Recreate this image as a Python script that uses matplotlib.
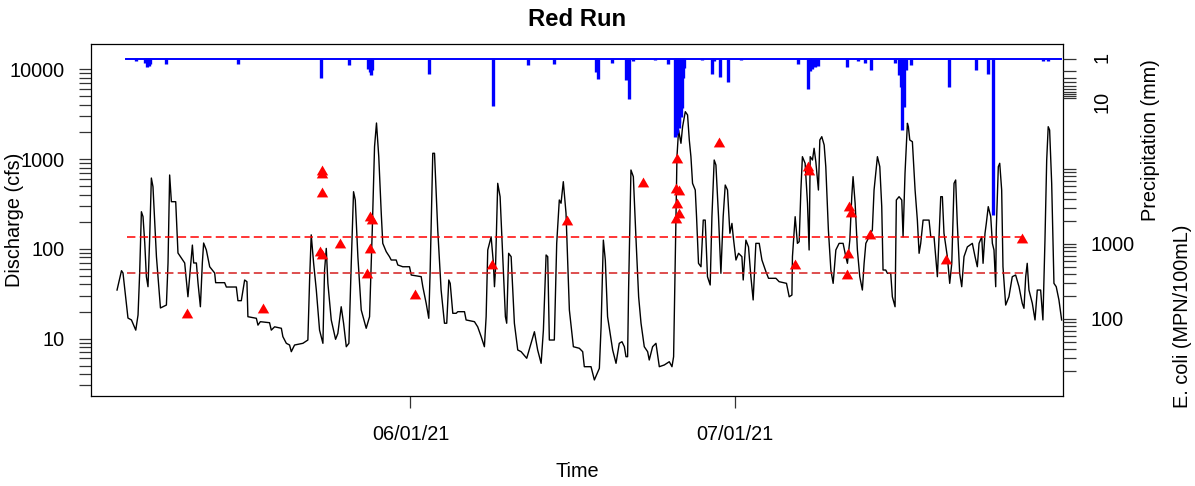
import numpy as np
import pandas as pd
import matplotlib
matplotlib.use("Agg")
import matplotlib.pyplot as plt
import matplotlib.dates as mdates
from matplotlib.ticker import FixedLocator, FuncFormatter, NullLocator

plt.rcParams['font.family'] = ['Liberation Sans', 'DejaVu Sans']

# ---------------- data (days since 2021-05-01 00:00) ----------------
BASE = pd.Timestamp("2021-05-01")

q_days = [
    3.89, 4.30, 4.44, 4.90, 5.22, 5.62, 5.83, 5.98, 6.14, 6.29,
    6.45, 6.60, 6.75, 6.91, 7.06, 7.21, 7.53, 7.90, 8.45, 8.60,
    8.75, 8.91, 9.31, 9.52, 9.83, 10.14, 10.44, 10.60, 10.85, 10.97,
    11.22, 11.37, 11.59, 11.77, 11.89, 12.14, 12.45, 12.91, 13.00, 13.83,
    13.99, 14.91, 15.06, 15.37, 15.68, 15.89, 15.98, 16.76, 16.91, 17.13,
    17.98, 18.14, 18.45, 19.07, 19.21, 19.53, 19.83, 19.99, 20.29, 21.06,
    21.52, 21.68, 21.83, 22.05, 22.30, 22.60, 22.91, 23.06, 23.22, 23.37,
    23.68, 24.08, 24.29, 24.60, 24.82, 25.07, 25.31, 25.53, 25.74, 25.90,
    26.14, 26.45, 26.91, 27.22, 27.47, 27.68, 27.86, 28.07, 28.30, 28.44,
    28.76, 29.06, 29.22, 29.68, 29.83, 30.29, 30.91, 31.07, 31.99, 32.14,
    32.45, 32.69, 32.82, 33.06, 33.22, 33.52, 33.83, 34.14, 34.35, 34.54,
    34.67, 34.91, 35.22, 35.37, 35.99, 36.14, 36.91, 37.21, 37.53, 37.83,
    37.99, 38.14, 38.45, 38.66, 38.76, 38.85, 39.06, 39.28, 39.52, 39.77,
    39.89, 40.07, 40.30, 40.60, 40.91, 41.22, 41.74, 42.14, 42.45, 42.75,
    43.07, 43.28, 43.53, 43.68, 43.83, 44.29, 44.51, 44.75, 44.91, 45.12,
    45.37, 45.68, 46.05, 46.60, 46.91, 47.06, 47.68, 47.99, 48.45, 48.61,
    48.82, 49.00, 49.21, 49.68, 49.99, 50.29, 50.54, 50.76, 50.91, 51.06,
    51.15, 51.37, 51.59, 51.84, 52.08, 52.30, 52.60, 52.91, 53.06, 53.37,
    53.68, 53.99, 54.45, 54.91, 55.16, 55.31, 55.44, 55.53, 55.62, 55.77,
    55.99, 56.14, 56.39, 56.60, 56.76, 56.91, 57.06, 57.31, 57.43, 57.61,
    57.84, 58.05, 58.23, 58.44, 58.69, 58.85, 59.06, 59.22, 59.46, 59.68,
    59.89, 60.08, 60.29, 60.51, 60.70, 60.82, 61.07, 61.31, 61.62, 61.74,
    61.99, 62.23, 62.45, 62.66, 62.91, 63.22, 63.47, 63.84, 64.08, 64.76,
    65.06, 65.74, 65.99, 66.24, 66.29, 66.54, 66.75, 66.91, 67.07, 67.21,
    67.46, 67.68, 67.83, 67.93, 68.14, 68.29, 68.45, 68.69, 68.82, 69.00,
    69.22, 69.37, 69.61, 69.84, 70.05, 70.30, 70.60, 70.97, 71.22, 71.37,
    71.59, 71.77, 71.89, 72.08, 72.29, 72.51, 72.75, 72.91, 73.07, 73.37,
    73.67, 73.83, 74.14, 74.36, 74.54, 74.66, 74.91, 75.06, 75.37, 75.52,
    75.77, 75.89, 76.14, 76.39, 76.51, 76.69, 76.91, 77.00, 77.13, 77.37,
    77.62, 77.83, 77.99, 78.14, 78.36, 78.91, 79.07, 79.37, 79.68, 79.99,
    80.14, 80.29, 80.60, 80.82, 81.01, 81.22, 81.37, 81.52, 81.74, 81.93,
    82.14, 82.45, 82.91, 83.16, 83.37, 83.53, 83.78, 83.90, 84.08, 84.20,
    84.38, 84.61, 84.76, 84.91, 85.07, 85.12, 85.31, 85.44, 85.62, 85.74,
    85.99, 86.29, 86.60, 86.91, 87.22, 87.52, 87.68, 87.84, 87.98, 88.14,
    88.45, 88.70, 88.91, 89.22, 89.43, 89.62, 89.78, 89.92, 90.05, 90.24,
    90.45, 90.66, 90.91, 91.16,
]
q_cfs = [
    34.7, 57, 53.7, 16.9, 16.1, 12.4, 18.3, 53.7, 259, 228,
    116, 48.9, 37.8, 136, 615, 492, 81.7, 21.9, 23.6, 69.5,
    665, 335, 335, 89.8, 78.9, 69.5, 29.2, 48.9, 110, 69.5,
    69.5, 41.6, 22.6, 69.5, 116, 97, 63.1, 53.7, 41.9, 41.9,
    37.5, 37.5, 26.4, 26.4, 44.9, 43, 17.5, 16.8, 14.1, 15.4,
    15.0, 12.4, 13.5, 13.0, 10.5, 8.84, 8.46, 7.13, 8.46, 8.84,
    9.62, 44.9, 143, 69.5, 34.7, 12.4, 8.84, 57, 101, 41.2,
    16.1, 9.8, 11.4, 22.6, 14.8, 8.1, 8.84, 69.5, 433, 350,
    81.7, 20.8, 13.0, 17.5, 162, 1375, 2525, 1064, 249, 115,
    92.9, 81.7, 75, 75, 66, 63.1, 63.1, 51, 48.9, 37.8,
    24.7, 16.8, 58, 1161, 1161, 162, 34.7, 14.8, 14.8, 44.9,
    41.2, 19.1, 19.1, 19.9, 19.9, 16.1, 15.4, 13.5, 10.5, 8.1,
    17.5, 97, 136, 69.5, 37.8, 58, 537, 381, 81.7, 17.5,
    14.8, 89.1, 81.7, 14.8, 7.45, 7.13, 6.02, 8.84, 11.9, 7.45,
    5.29, 12.4, 85.3, 81.7, 9.62, 9.62, 115, 350, 322, 560,
    249, 20.8, 8.1, 7.78, 7.13, 4.85, 4.85, 3.45, 4.65, 13.5,
    125, 75, 17.5, 7.45, 5.29, 8.84, 9.21, 8.1, 6.27, 6.27,
    34.7, 756, 637, 125, 29.2, 14.8, 8.1, 7.13, 5.76, 8.1,
    8.84, 4.85, 5.07, 5.51, 4.85, 6.27, 48.9, 228, 1064, 2110,
    1500, 2297, 3377, 3104, 1633, 1064, 537, 452, 228, 68.9,
    63.1, 209, 209, 48.9, 39.5, 228, 977, 859, 228, 53.3,
    228, 514, 452, 149, 192, 136, 75, 89.1, 81.7, 44.9,
    125, 105, 48.9, 26.9, 115, 115, 75, 55.6, 46.9, 46.9,
    43, 41.2, 29.2, 30.5, 81.7, 228, 115, 120, 452, 1064,
    898, 322, 97, 1064, 977, 1320, 935, 452, 1633, 1778,
    1436, 823, 162, 58, 41.2, 97, 115, 115, 81.7, 68.9,
    125, 381, 637, 322, 97, 48.9, 34.7, 68.9, 115, 136,
    162, 452, 1064, 823, 295, 58, 58, 53.3, 53.3, 29.2,
    22.6, 350, 381, 350, 136, 695, 2507, 2297, 1633, 1563,
    452, 209, 89.1, 115, 209, 209, 136, 136, 48.9, 381,
    381, 149, 81.7, 41.2, 68.9, 537, 585, 192, 53.3, 37.8,
    81.7, 105, 115, 81.7, 63.1, 115, 136, 68.9, 149, 192,
    295, 228, 115, 97, 37.8, 162, 823, 898, 452, 63.1,
    23.6, 29.2, 48.9, 51, 37.8, 24.7, 21.7, 48.9, 68.9, 34.7,
    24.7, 16.1, 34.7, 34.7, 16.1, 125, 977, 2297, 2110, 537,
    41.2, 37.8, 26.9, 16.1,
]

ecoli_days = [10.39, 17.37, 22.79, 22.83, 22.85, 22.60, 22.79, 24.51, 27.22, 27.40,
              27.22, 27.00, 31.46, 38.51, 45.43, 52.45, 59.46, 55.62, 55.56, 55.78,
              55.67, 55.83, 55.53, 66.48, 67.69, 67.83, 71.53, 71.68, 71.46, 71.37,
              73.46, 80.45, 87.52]
ecoli_mpn = [119, 142, 9700, 8710, 4980, 807, 736, 1040, 2362, 2154,
             877, 407, 213, 536, 2089, 6650, 23100, 13900, 5580, 5250,
             3490, 2614, 2245, 536, 10960, 9700, 3210, 2650, 751, 394,
             1360, 631, 1190]

precip_days = [5.62, 6.45, 6.63, 6.82, 6.95, 8.45, 15.06, 22.69, 25.31, 27.03,
               27.22, 27.37, 27.49, 32.69, 38.66, 41.83, 44.29, 48.14, 48.29, 49.62,
               50.91, 51.15, 51.52, 53.62, 54.75, 55.46, 55.55, 55.67, 55.77, 55.83,
               55.97, 56.08, 56.20, 56.29, 57.93, 58.85, 59.06, 59.59, 60.29, 61.53,
               66.82, 67.71, 67.88, 68.14, 68.36, 68.69, 71.37, 72.38, 73.00, 73.56,
               75.77, 76.14, 76.30, 76.44, 76.60, 76.76, 77.22, 80.76, 83.28, 84.39,
               84.85, 89.43, 89.92]
precip_mm = [1.1, 1.27, 1.58, 1.51, 1.34, 1.34, 1.34, 3.12, 1.42, 1.8,
             2.2, 2.57, 1.9, 2.47, 16, 1.42, 1.34, 2.12, 3.31, 1.24,
             3.45, 10.8, 1.1, 1.06, 1.34, 98, 90, 80, 60, 44.5,
             30, 18.4, 3, 1.7, 1.06, 2.42, 1.1, 2.84, 3.96, 1.06,
             1.34, 5.98, 2.0, 1.84, 1.63, 1.5, 1.63, 1.1, 1.24, 1.91,
             1.29, 2.5, 5.13, 66, 16.7, 1.91, 1.42, 5.13, 1.91, 2.42,
             10000, 1.1, 1.1]
precip_span = [4.69, 91.10]       # extent of the precipitation record
precip_base = 1.0                 # zero-rain baseline on log axis

threshold_values = [1235, 410]    # E. coli reference levels
threshold_span = [4.81, 87.96]    # sampling period

left_labels = [10, 100, 1000, 10000]
precip_labels = [1, 10]
ecoli_labels = [100, 1000]


def to_dt(days):
    return BASE + pd.to_timedelta(np.asarray(days, dtype=float), unit="D")


# ---------------- figure ----------------
W, H = 1195, 486
fig = plt.figure(figsize=(W / 100, H / 100), dpi=100)
L_px, R_px, T_px, B_px = 91, 1063, 44, 396
ax = fig.add_axes([L_px / W, 1 - B_px / H, (R_px - L_px) / W, (B_px - T_px) / H])

FS = 14.3
TICK_LEN = 8.8

# discharge
ax.plot(to_dt(q_days), q_cfs, color="black", lw=1.0, zorder=2)
ax.set_yscale("log")
ax.set_ylim(2.286, 19190)
pad = 0.04 * (threshold_span[1] - threshold_span[0])
xl = to_dt([threshold_span[0] - pad, threshold_span[1] + pad])
ax.set_xlim(xl[0], xl[1])

left_ticks = sorted({m * 10 ** e for e in range(0, 5) for m in range(1, 10)
                     if 3 <= m * 10 ** e <= 10000})
ax.yaxis.set_major_locator(FixedLocator(left_ticks))
ax.yaxis.set_minor_locator(NullLocator())


def make_fmt(labels):
    def f(v, p):
        for lab in labels:
            if np.isclose(v, lab):
                return str(lab)
        return ""
    return FuncFormatter(f)


ax.yaxis.set_major_formatter(make_fmt(left_labels))
ax.xaxis.set_major_locator(mdates.MonthLocator())
ax.xaxis.set_major_formatter(mdates.DateFormatter("%m/%d/%y"))
ax.xaxis.set_minor_locator(NullLocator())
ax.tick_params(axis="x", direction="out", length=TICK_LEN, width=0.9,
               labelsize=FS, pad=12, color="#333333")
ax.tick_params(axis="y", direction="out", length=TICK_LEN, width=0.9,
               labelsize=FS, pad=10, color="#333333", right=False)
for s in ax.spines.values():
    s.set_linewidth(0.9)

# precipitation (inverted log axis)
ax2 = ax.twinx()
ax2.set_yscale("log")
ax2.set_ylim(4.38e8, 0.412)
ax2.vlines(to_dt(precip_days), precip_base, precip_mm, color="blue", lw=2.4, zorder=3)
ax2.plot(to_dt(precip_span), [precip_base, precip_base], color="blue", lw=1.4, zorder=3)
ax2.yaxis.set_major_locator(FixedLocator(list(range(1, 11))))
ax2.yaxis.set_minor_locator(NullLocator())
ax2.yaxis.set_major_formatter(make_fmt(precip_labels))
ax2.tick_params(axis="y", direction="out", length=9.5, width=0.9, labelsize=FS,
                pad=12, labelrotation=90, color="#333333")
for s in ax2.spines.values():
    s.set_visible(False)

# E. coli
ax3 = ax.twinx()
ax3.set_yscale("log")
ax3.set_ylim(9.4, 464000)
thr_colors = ["#ff0000", "#d41e1e"]
for v, c in zip(threshold_values, thr_colors):
    ax3.plot(to_dt(threshold_span), [v, v], color=c, lw=1.1,
             ls=(0, (5.5, 2.8)), zorder=4)
tri = [(0, 1), (1.155, -1), (-1.155, -1), (0, 1)]
ax3.plot(to_dt(ecoli_days), ecoli_mpn, ls="none", marker=tri, ms=8.2,
         mew=0, color="red", zorder=5)
ecoli_ticks = sorted({m * 10 ** e for e in range(1, 5) for m in range(1, 10)
                      if 20 <= m * 10 ** e <= 10000})
ax3.yaxis.set_major_locator(FixedLocator(ecoli_ticks))
ax3.yaxis.set_minor_locator(NullLocator())
ax3.yaxis.set_major_formatter(make_fmt(ecoli_labels))
ax3.tick_params(axis="y", direction="out", length=9.5, width=0.9, labelsize=FS,
                pad=10, color="#333333")
for s in ax3.spines.values():
    s.set_visible(False)

# texts
fig.text(577 / W, 1 - 20 / H, "Red Run", ha="center", va="center",
         fontsize=17.2, fontweight="bold")
fig.text(577 / W, 1 - 471 / H, "Time", ha="center", va="center", fontsize=FS)
fig.text(15 / W, 1 - 220 / H, "Discharge (cfs)", rotation=90,
         ha="center", va="center", fontsize=FS)
fig.text(1150 / W, 1 - 140 / H, "Precipitation (mm)", rotation=90,
         ha="center", va="center", fontsize=FS)
fig.text(1183 / W, 1 - 316 / H, "E. coli (MPN/100mL)", rotation=90,
         ha="center", va="center", fontsize=FS)

fig.savefig("out.png", dpi=100)
